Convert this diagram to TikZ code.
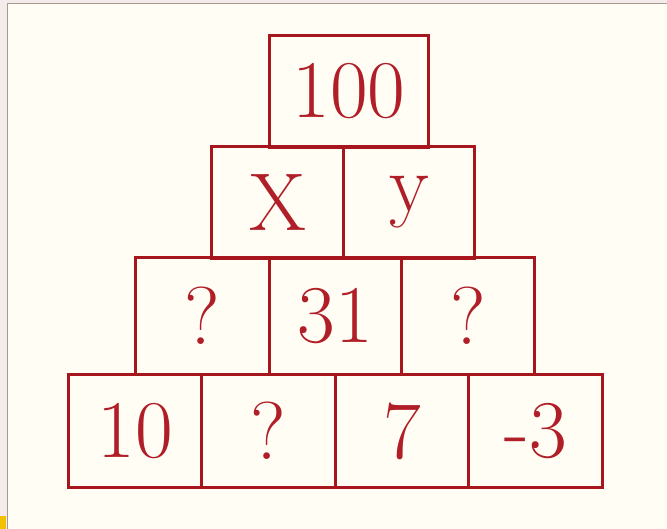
\documentclass[tikz,border=0pt]{standalone}
\usepackage{fontspec}
\definecolor{cream}{HTML}{FFFDF4}
\definecolor{band}{HTML}{F3ECEA}
\definecolor{frameline}{HTML}{A89890}
\definecolor{brick}{HTML}{A8161D}
\definecolor{ink}{HTML}{B01F28}
\definecolor{corner}{HTML}{F2C200}
\begin{document}
\begin{tikzpicture}[x=1pt,y=-1pt,
  cell/.style={draw=brick, line width=3pt, anchor=north west, inner sep=0pt,
    text=ink, font=\fontsize{82}{82}\selectfont, minimum height=112pt, minimum width=133pt}]
\useasboundingbox (0,0) rectangle (667,529);
\fill[cream] (0,0) rectangle (667,529);
\fill[band] (0,0) rectangle (7,529);
\fill[band] (0,0) rectangle (667,3);
\draw[frameline, line width=1.5pt] (7.5,529) -- (7.5,3.5) -- (667,3.5);
\fill[corner] (0,516) rectangle (6,529);
% top
\node[cell, minimum width=159pt] (top) at (268,34) {100};
% second row
\node[cell, minimum width=132pt] (x) at (210,145) {X};
\node[cell, minimum width=131pt] (y) at (342,145) {y};
% third row
\node[cell, minimum height=117pt, minimum width=134pt] (q1) at (134,256) {?};
\node[cell, minimum height=117pt, minimum width=132pt] (m31) at (268,256) {31};
\node[cell, minimum height=117pt, minimum width=133pt] (q2) at (400,256) {?};
% bottom row
\node[cell, minimum height=113pt] (b10) at (67,373) {10};
\node[cell, minimum height=113pt, minimum width=134pt] (bq) at (200,373) {?};
\node[cell, minimum height=113pt] (b7) at (334,373) {7};
\node[cell, minimum height=113pt, minimum width=134pt] (bm3) at (467,373) {-3};
\end{tikzpicture}
\end{document}
